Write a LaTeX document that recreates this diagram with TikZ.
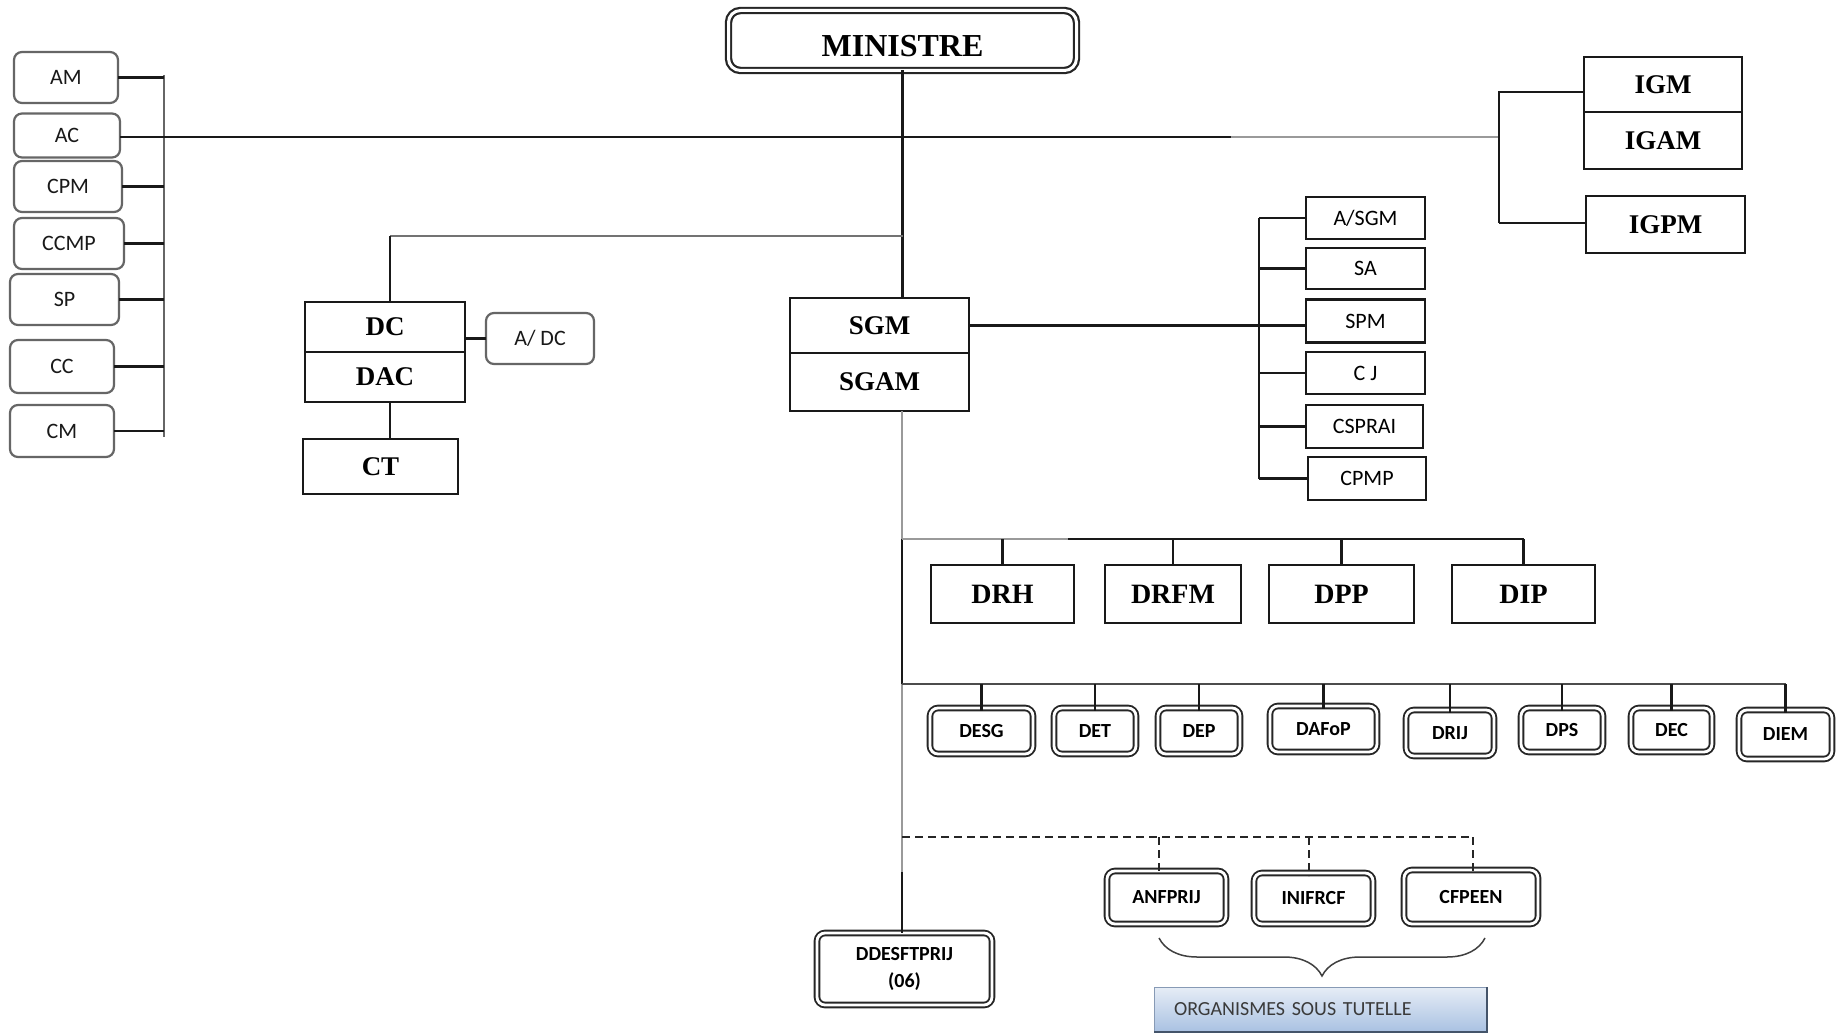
\documentclass[tikz,border=0pt]{standalone}
\usepackage{fontspec}
\setmainfont{Liberation Serif}
\newfontfamily\calib{Carlito}
\usetikzlibrary{decorations.pathreplacing}
\definecolor{lg}{HTML}{9A9A9A}
\definecolor{orgtop}{HTML}{E6EDF6}
\definecolor{orgbot}{HTML}{A9C1E2}
\definecolor{orgedge}{HTML}{44546A}
\definecolor{orgtext}{HTML}{3A3A3A}
\begin{document}
\begin{tikzpicture}[x=1pt,y=-1pt,
  every node/.style={inner sep=0pt, outer sep=0pt},
  rbox/.style={draw=black!60, line width=2.2pt, rounded corners=8pt, text=black!90, font=\calib\fontsize{22}{26}\selectfont},
  sbox/.style={draw=black!90, line width=2.2pt, font=\bfseries\fontsize{27}{31}\selectfont},
  lbox/.style={draw=black!90, line width=2.2pt, font=\calib\fontsize{22}{26}\selectfont},
  dbox/.style={draw=black!85, line width=1.9pt, double=white, double distance=2.8pt, rounded corners=8pt, font=\calib\bfseries\fontsize{20}{24}\selectfont},
  conn/.style={line width=2.1pt, draw=black!90},
  gconn/.style={line width=2.1pt, draw=lg},
  dconn/.style={line width=2pt, draw=black!85, dash pattern=on 8pt off 5pt},
]
\useasboundingbox (0,0) rectangle (1839,1035);
\fill[white] (0,0) rectangle (1839,1035);

% MINISTRE
\node[dbox, line width=2.2pt, double distance=3pt, rounded corners=12pt, minimum width=348pt, minimum height=60pt, text height=33pt, text depth=0pt, font=\bfseries\fontsize{32}{36}\selectfont] (MIN) at (902.5,40.5) {MINISTRE};

% left column
\node[rbox, minimum width=104pt, minimum height=51pt] (AM) at (66,77.5) {AM};
\node[rbox, minimum width=106pt, minimum height=44pt] (AC) at (67,135.5) {AC};
\node[rbox, minimum width=108pt, minimum height=51pt] (CPM) at (68,186.5) {CPM};
\node[rbox, minimum width=110pt, minimum height=51pt] (CCMP) at (69,243.5) {CCMP};
\node[rbox, minimum width=109pt, minimum height=51pt] (SP) at (64.5,299.5) {SP};
\node[rbox, minimum width=104pt, minimum height=53pt] (CC) at (62,366.5) {CC};
\node[rbox, minimum width=104pt, minimum height=52pt] (CM) at (62,431) {CM};
\coordinate (lbT) at (164,75);
\coordinate (lbB) at (164,437);
\draw[conn, draw=black!60] (lbT) -- (lbB);
\foreach \n in {AM,CPM,CCMP,SP,CC,CM} \draw[conn] (\n.east) -- (\n.east -| lbT);

% inspection boxes
\node[sbox, minimum width=158pt, minimum height=55pt] (IGM) at (1663,84.5) {IGM};
\node[sbox, minimum width=158pt, minimum height=57pt] (IGAM) at (1663,140.5) {IGAM};
\node[sbox, minimum width=159pt, minimum height=57pt] (IGPM) at (1665.5,224.5) {IGPM};
\coordinate (igA) at (1499,92);
\coordinate (igB) at (1499,223);
\coordinate (gsplit) at (1231,0);
\coordinate (acL) at ([yshift=-1.5pt]AC.east);
\draw[conn] (acL) -- (acL -| gsplit);
\draw[gconn] (acL -| gsplit) -- (acL -| igA);
\draw[conn] (igA -| IGM.west) -- (igA) -- (igB);
\draw[conn] (igB) -- (igB -| IGPM.west);

% SGM / SGAM
\node[sbox, minimum width=179pt, minimum height=55pt] (SGM) at (879.5,325.5) {SGM};
\node[sbox, minimum width=179pt, minimum height=58pt] (SGAM) at (879.5,382) {SGAM};
\draw[conn] (MIN.south) -- (MIN.south |- SGM.north);

% DC / DAC / CT / A/DC
\node[sbox, minimum width=160pt, minimum height=50pt] (DC) at (385,327) {DC};
\node[sbox, minimum width=160pt, minimum height=50pt] (DAC) at (385,377) {DAC};
\node[sbox, minimum width=155pt, minimum height=55pt] (CT) at (380.5,466.5) {CT};
\node[rbox, minimum width=108pt, minimum height=51pt, font=\calib\fontsize{22}{26}\selectfont] (ADC) at (540,338.5) {A/ DC};
\coordinate (dcj) at (390,236);
\draw[gconn, draw=black!55] (dcj) -- (dcj -| MIN.south);
\draw[conn] (dcj) -- (dcj |- DC.north);
\draw[conn] (ADC.west -| DC.east) -- (ADC.west);
\draw[conn] (DAC.south -| dcj) -- (CT.north -| dcj);

% right list
\node[lbox, minimum width=119pt, minimum height=42pt] (ASGM) at (1365.5,218) {A/SGM};
\node[lbox, minimum width=119pt, minimum height=41pt] (SA) at (1365.5,268.5) {SA};
\node[lbox, minimum width=119pt, minimum height=43pt] (SPM) at (1365.5,321) {SPM};
\node[lbox, minimum width=119pt, minimum height=42pt] (CJ) at (1365.5,373) {C J};
\node[lbox, minimum width=117pt, minimum height=43pt] (CSPRAI) at (1364.5,426.5) {CSPRAI};
\node[lbox, minimum width=118pt, minimum height=43pt] (CPMP) at (1367,478.5) {CPMP};
\coordinate (rvT) at (1259,218);
\coordinate (rvB) at (1259,478.5);
\draw[conn] (SGM.east) -- (SGM.east -| SPM.west);
\draw[conn] (rvT) -- (rvB);
\foreach \n in {ASGM,SA,CJ,CSPRAI,CPMP} \draw[conn] (rvT |- \n.west) -- (\n.west);

% directions row 1
\node[sbox, minimum width=143pt, minimum height=58pt, font=\bfseries\fontsize{28}{32}\selectfont] (DRH) at (1002.5,594) {DRH};
\node[sbox, minimum width=136pt, minimum height=58pt, font=\bfseries\fontsize{28}{32}\selectfont] (DRFM) at (1173,594) {DRFM};
\node[sbox, minimum width=145pt, minimum height=58pt, font=\bfseries\fontsize{28}{32}\selectfont] (DPP) at (1341.5,594) {DPP};
\node[sbox, minimum width=143pt, minimum height=58pt, font=\bfseries\fontsize{28}{32}\selectfont] (DIP) at (1523.5,594) {DIP};

% directions row 2
\node[dbox, minimum width=103pt, minimum height=46pt] (DESG) at (981.5,731) {DESG};
\node[dbox, minimum width=82pt, minimum height=46pt] (DET) at (1095,731) {DET};
\node[dbox, minimum width=82pt, minimum height=46pt] (DEP) at (1199,731) {DEP};
\node[dbox, minimum width=107pt, minimum height=46pt] (DAFOP) at (1323.5,729) {DAFoP};
\node[dbox, minimum width=88pt, minimum height=46pt] (DRIJ) at (1450,733) {DRIJ};
\node[dbox, minimum width=82pt, minimum height=44pt] (DPS) at (1562,730) {DPS};
\node[dbox, minimum width=81pt, minimum height=44pt] (DEC) at (1671.5,730) {DEC};
\node[dbox, minimum width=93pt, minimum height=49pt] (DIEM) at (1785.5,734.5) {DIEM};

% deconcentrated + organisms
\node[dbox, minimum width=175pt, minimum height=72pt, align=center, font=\calib\bfseries\fontsize{20}{27}\selectfont] (DD) at (904.5,969) {DDESFTPRIJ\\(06)};
\node[dbox, minimum width=119pt, minimum height=53pt] (ANF) at (1166.5,897.5) {ANFPRIJ};
\node[dbox, minimum width=119pt, minimum height=51pt] (INI) at (1313.5,898.5) {INIFRCF};
\node[dbox, minimum width=134pt, minimum height=54pt] (CFP) at (1471,897) {CFPEEN};

% main vertical below SGAM
\coordinate (r1) at (902,539);
\coordinate (r2) at (902,684);
\coordinate (dj) at (902,837);
\coordinate (gb) at (902,872);
\coordinate (r1g) at (1068,539);
\draw[gconn] (SGAM.south -| r1) -- (r1);
\draw[conn] (r1) -- (r2);
\draw[gconn] (r2) -- (gb);
\draw[conn] (gb) -- (DD.north -| gb);

% row 1 connectors
\draw[gconn] (r1) -- (r1g);
\draw[conn] (r1g) -- (r1 -| DIP.north);
\foreach \n in {DRH,DRFM,DPP,DIP} \draw[conn] (\n.north |- r1) -- (\n.north);

% row 2 connectors
\draw[conn, draw=black!70] (r2) -- (r2 -| DIEM.north);
\foreach \n in {DESG,DET,DEP,DAFOP,DRIJ,DPS,DEC,DIEM} \draw[conn] (\n.north |- r2) -- ([yshift=-3pt]\n.north);

% dashed links
\coordinate (d1) at (1159,837);
\coordinate (d2) at (1309,837);
\coordinate (d3) at (1473,837);
\draw[dconn] (dj) -- (d3);
\draw[dconn] (d1) -- ([yshift=-3pt]d1 |- ANF.north);
\draw[dconn] (d2) -- ([yshift=-3pt]d2 |- INI.north);
\draw[dconn] (d3) -- ([yshift=-3pt]d3 |- CFP.north);

% brace
\coordinate (bL) at (1159,938);
\coordinate (bR) at (1485,938);
\draw[line width=1.5pt, draw=black!75, decorate, decoration={brace, mirror, amplitude=38pt, aspect=0.5}] (bL) -- (bR);

% organisms label
\node[top color=orgtop, bottom color=orgbot, minimum width=333pt, minimum height=45pt, text width=293pt, align=left, text=orgtext, font=\calib\fontsize{20}{24}\selectfont] (ORG) at (1320.5,1009.5) {ORGANISMES SOUS TUTELLE};
\draw[line width=0.8pt, draw=orgbot!80!black] (ORG.south west) -- (ORG.north west) -- (ORG.north east);
\draw[line width=2.2pt, draw=orgedge] (ORG.south west) -- (ORG.south east) -- (ORG.north east);
\end{tikzpicture}
\end{document}
